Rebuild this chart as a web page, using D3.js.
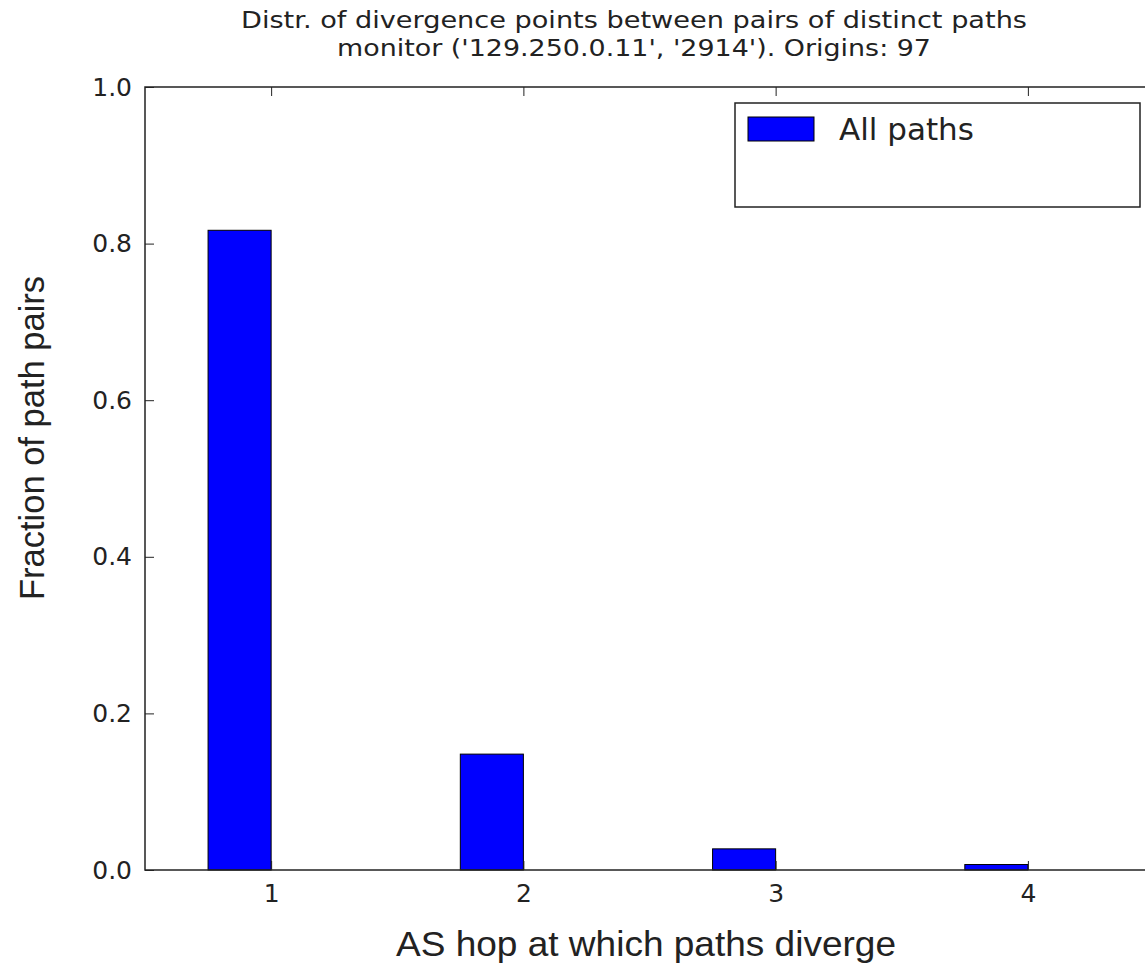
<!DOCTYPE html>
<html>
<head>
<meta charset="utf-8">
<script src="https://cdn.jsdelivr.net/npm/d3@7"></script>
<style>
  body { margin: 0; background: white; }
  svg { display: block; }
</style>
</head>
<body>
<div id="chart"></div>
<script>
// data
let hops = [1, 2, 3, 4];
let allPaths = [0.817, 0.148, 0.027, 0.007];
let yTicks = [0.0, 0.2, 0.4, 0.6, 0.8, 1.0];
let titleLines = [
  "Distr. of divergence points between pairs of distinct paths",
  "monitor ('129.250.0.11', '2914'). Origins: 97"
];

let width = 1145, height = 966;
let plotL = 145, plotT = 87, plotR = 1154, plotB = 870;

let svg = d3.select('#chart').append('svg')
  .attr('width', width)
  .attr('height', height);

let x = d3.scaleLinear().domain([0.5, 4.5]).range([plotL, plotR]);
let y = d3.scaleLinear().domain([0, 1]).range([plotB, plotT]);
let barW = 0.25;

// bars, right edge sitting on the tick
svg.selectAll('rect.bar')
  .data(allPaths)
  .enter()
  .append('rect')
  .attr('class', 'bar')
  .attr('x', function(d, i) { return x(hops[i] - barW); })
  .attr('y', function(d) { return y(d); })
  .attr('width', function(d, i) { return x(hops[i]) - x(hops[i] - barW); })
  .attr('height', function(d) { return y(0) - y(d); })
  .attr('fill', '#0000ff')
  .attr('stroke', '#000')
  .attr('stroke-width', 1);

// frame
svg.append('rect')
  .attr('x', plotL)
  .attr('y', plotT)
  .attr('width', plotR - plotL)
  .attr('height', plotB - plotT)
  .attr('fill', 'none')
  .attr('stroke', '#222')
  .attr('stroke-width', 1.5);

// inward ticks, matplotlib classic style
let tickLen = 9;
let yAxisL = d3.axisLeft(y).tickValues(yTicks).tickSizeInner(-tickLen).tickSizeOuter(0).tickPadding(13)
  .tickFormat(d3.format('.1f'));
let gl = svg.append('g').attr('transform', 'translate(' + plotL + ',0)').call(yAxisL);
let yAxisR = d3.axisRight(y).tickValues(yTicks).tickSizeInner(-tickLen).tickSizeOuter(0).tickFormat('');
let gr = svg.append('g').attr('transform', 'translate(' + plotR + ',0)').call(yAxisR);
let xAxisB = d3.axisBottom(x).tickValues(hops).tickSizeInner(-tickLen).tickSizeOuter(0).tickPadding(14)
  .tickFormat(d3.format('d'));
let gb = svg.append('g').attr('transform', 'translate(0,' + plotB + ')').call(xAxisB);
let xAxisT = d3.axisTop(x).tickValues(hops).tickSizeInner(-tickLen).tickSizeOuter(0).tickFormat('');
let gt = svg.append('g').attr('transform', 'translate(0,' + plotT + ')').call(xAxisT);

[gl, gr, gb, gt].forEach(function(g) {
  g.select('.domain').remove();
  g.selectAll('line').attr('stroke', '#222').attr('stroke-width', 1);
  g.selectAll('text')
    .attr('fill', '#222')
    .style('font-family', 'DejaVu Sans')
    .style('font-size', '25px');
});

// title
svg.selectAll('text.title')
  .data(titleLines)
  .enter()
  .append('text')
  .attr('class', 'title')
  .attr('x', 634)
  .attr('y', function(d, i) { return 28 + i * 28; })
  .attr('text-anchor', 'middle')
  .attr('textLength', function(d, i) { return i === 0 ? 786 : 594; })
  .attr('lengthAdjust', 'spacingAndGlyphs')
  .style('font-family', 'DejaVu Sans')
  .style('font-size', '23.5px')
  .attr('fill', '#222')
  .text(function(d) { return d; });

// axis labels
svg.append('text')
  .attr('x', 646)
  .attr('y', 956)
  .attr('text-anchor', 'middle')
  .attr('textLength', 500)
  .attr('lengthAdjust', 'spacingAndGlyphs')
  .style('font-family', 'Liberation Sans')
  .style('font-size', '35px')
  .attr('fill', '#222')
  .text('AS hop at which paths diverge');

svg.append('text')
  .attr('transform', 'translate(44,438) rotate(-90)')
  .attr('text-anchor', 'middle')
  .style('font-family', 'Liberation Sans')
  .style('font-size', '34.5px')
  .attr('fill', '#222')
  .text('Fraction of path pairs');

// legend
let legend = svg.append('g').attr('transform', 'translate(735,103)');
legend.append('rect')
  .attr('width', 405)
  .attr('height', 104)
  .attr('fill', 'white')
  .attr('stroke', '#222')
  .attr('stroke-width', 1.5);
legend.append('rect')
  .attr('x', 13)
  .attr('y', 14)
  .attr('width', 66)
  .attr('height', 24)
  .attr('fill', '#0000ff')
  .attr('stroke', '#000')
  .attr('stroke-width', 1);
legend.append('text')
  .attr('x', 104)
  .attr('y', 37)
  .style('font-family', 'DejaVu Sans')
  .style('font-size', '31px')
  .attr('fill', '#222')
  .text('All paths');
</script>
</body>
</html>
